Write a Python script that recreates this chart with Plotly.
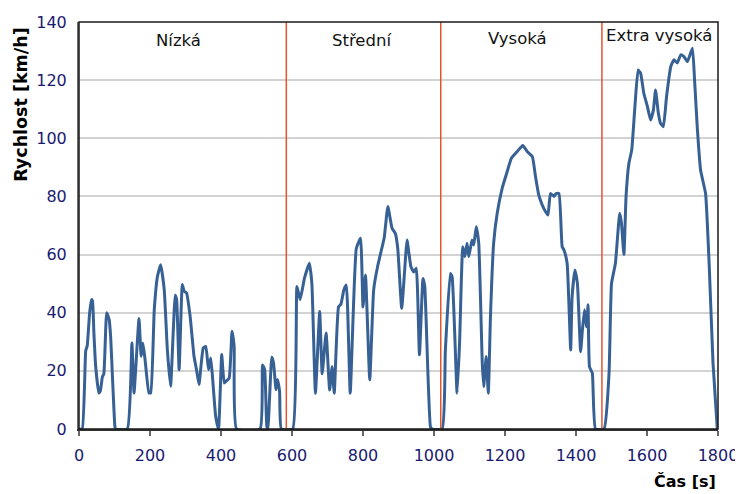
import plotly.graph_objects as go

time_s = [0, 9, 19, 23, 30, 35, 38, 42, 47, 56, 60, 66, 70, 78, 85, 89, 101, 103, 136, 149,
          155, 169, 175, 180, 186, 197, 202, 212, 221, 230, 240, 249, 258, 271, 275, 282, 291, 296, 303, 313,
          324, 331, 338, 350, 357, 365, 371, 376, 385, 393, 402, 409, 414, 423, 431, 437, 444, 510, 517, 523,
          529, 532, 543, 548, 555, 559, 565, 570, 602, 614, 623, 635, 649, 656, 666, 678, 685, 696, 706, 713,
          719, 731, 738, 746, 753, 764, 781, 793, 800, 807, 819, 830, 841, 852, 860, 870, 882, 891, 898, 909,
          920, 924, 935, 943, 950, 959, 969, 974, 990, 995, 1023, 1032, 1046, 1051, 1065, 1072, 1081, 1087, 1093, 1098,
          1107, 1112, 1119, 1126, 1136, 1140, 1147, 1153, 1159, 1168, 1178, 1192, 1206, 1218, 1234, 1250, 1263, 1277, 1286, 1295,
          1305, 1314, 1321, 1328, 1338, 1344, 1352, 1361, 1366, 1375, 1385, 1389, 1397, 1404, 1413, 1418, 1424, 1430, 1434, 1438,
          1446, 1455, 1479, 1493, 1500, 1511, 1523, 1528, 1535, 1541, 1549, 1557, 1566, 1575, 1582, 1591, 1601, 1610, 1618, 1624,
          1632, 1638, 1646, 1655, 1667, 1676, 1685, 1695, 1704, 1714, 1728, 1734, 1742, 1751, 1765, 1775, 1786, 1798]
speed_kmh = [0, 0, 27, 28.5, 40, 44.5, 44, 33, 21.5, 12.4, 13, 18, 19, 40, 37.6, 32, 1, 0, 0, 29.6,
             12.4, 38, 25, 29.6, 24, 12.4, 12.4, 41, 52.5, 56.5, 48, 27, 14.7, 46, 44.5, 20.4, 49.7, 47.4, 46.8, 38.8,
             25, 20.4, 15.3, 27.9, 28.4, 20.4, 24.4, 18, 4.4, 0, 25.6, 15.8, 16.4, 17.5, 33.6, 28.4, 0, 0, 22, 20.4,
             1, 0, 24.8, 22.7, 13.5, 17, 13, 0, 0, 49, 44.5, 51.8, 57, 50, 12.3, 40.4, 19, 33, 13.4, 21.4,
             12.3, 42, 43, 47.8, 49.5, 12.3, 62, 65.6, 42, 53, 16.9, 47.8, 55.8, 61.6, 66, 76.5, 69, 67.3, 62, 41.5,
             59.3, 65, 55.8, 54, 55.3, 25.5, 51.8, 49, 0.8, 0, 0, 27, 53.5, 52.4, 12.3, 29.5, 62.7, 59.3, 63.9, 59.3,
             65, 63.3, 69.6, 63.9, 22.6, 14.6, 24.9, 12.3, 38.6, 63.9, 74.2, 82.8, 88.5, 93.1, 95.4, 97.5, 95.4, 93.7, 86.8, 80.5,
             77, 74.8, 73.6, 81, 80, 81, 81, 62.7, 61.6, 57, 27.2, 45.5, 54.7, 50, 26.6, 34, 41, 35.2, 42.7, 21.4,
             19.2, 0, 0, 19, 50, 57, 74.2, 70.8, 60, 80, 91.4, 96, 111, 123.5, 122.4, 115.5, 111, 106.3, 109.7, 116.6,
             108.6, 105.2, 104, 114.3, 124.7, 127, 125.9, 128.7, 128.1, 126.4, 131, 120, 103, 89, 81, 57, 22.6, 0]

phase_bounds = [584, 1019, 1473]
phase_names = ["Nízká", "Střední", "Vysoká", "Extra vysoká"]
phase_label_x = [279, 798, 1234, 1635]
phase_label_y = [133.6, 133.6, 134.3, 135.2]

x_ticks = [0, 200, 400, 600, 800, 1000, 1200, 1400, 1600, 1800]
y_ticks = [0, 20, 40, 60, 80, 100, 120, 140]

fig = go.Figure()
fig.add_trace(go.Scatter(x=time_s, y=speed_kmh, mode="lines",
                         line=dict(color="#376194", width=3, shape="spline", smoothing=0.4),
                         showlegend=False, hoverinfo="skip"))

for b in phase_bounds:
    fig.add_shape(type="line", x0=b, x1=b, y0=0, y1=140, xref="x", yref="y",
                  line=dict(color="#E2552D", width=1.5), layer="above")

for name, lx, ly in zip(phase_names, phase_label_x, phase_label_y):
    fig.add_annotation(x=lx, y=ly, xref="x", yref="y", text=name, showarrow=False,
                       font=dict(family="DejaVu Sans", size=16.5, color="#111111"),
                       xanchor="center", yanchor="middle")

# frame
fig.add_shape(type="rect", x0=0, x1=1, y0=0, y1=1, xref="paper", yref="paper",
              line=dict(color="#1a1a1a", width=1.5), layer="above")

fig.add_annotation(x=-0.09, y=0.993, xref="paper", yref="paper", text="<b>Rychlost [km/h]</b>",
                   textangle=-90, showarrow=False, xanchor="center", yanchor="top",
                   font=dict(family="DejaVu Sans", size=17.5, color="#000000"))
fig.add_annotation(x=1.0, y=-0.13, xref="paper", yref="paper", text="<b>Čas [s]</b>",
                   showarrow=False, xanchor="right", yanchor="middle",
                   font=dict(family="DejaVu Sans", size=16, color="#000000"))

fig.update_layout(
    width=735, height=486,
    margin=dict(l=71, r=25, t=14, b=65, autoexpand=False),
    paper_bgcolor="white", plot_bgcolor="white",
    xaxis=dict(range=[0, 1800], tickvals=x_ticks, ticktext=[str(v) for v in x_ticks],
               automargin=False,
               showgrid=False, zeroline=False, showline=True, linecolor="#333333", linewidth=2,
               ticks="outside", ticklen=5, tickwidth=1.5, tickcolor="#666666",
               ticklabelstandoff=6,
               tickfont=dict(family="DejaVu Sans", size=16, color="#1a1a70")),
    yaxis=dict(range=[0, 140], tickvals=y_ticks, ticktext=[str(v) for v in y_ticks],
               automargin=False,
               showgrid=True, gridcolor="#D3D3D3", gridwidth=1.5, zeroline=False,
               showline=True, linecolor="#6E6E6E", linewidth=2, ticks="",
               ticklabelstandoff=7,
               tickfont=dict(family="DejaVu Sans", size=16, color="#1a1a70")),
)

fig.write_html("out.html")
